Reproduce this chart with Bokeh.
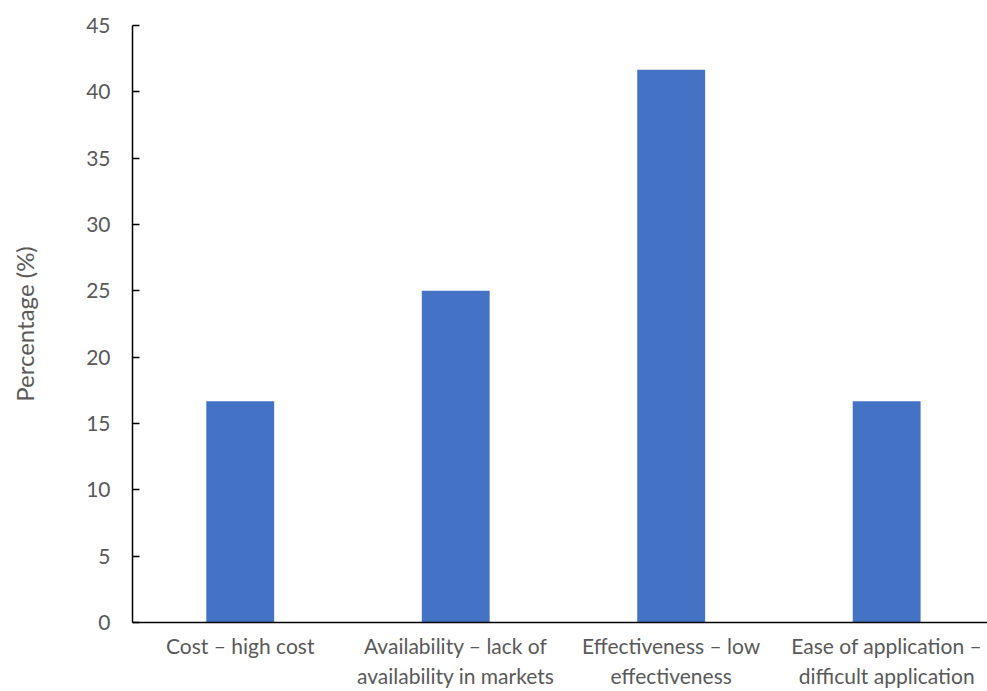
from bokeh.plotting import figure
from bokeh.models import Range1d, FixedTicker
from bokeh.embed import file_html
from bokeh.resources import INLINE

categories = ["Cost – high cost",
              "Availability – lack of\navailability in markets",
              "Effectiveness – low\neffectiveness",
              "Ease of application –\ndifficult application"]
percentages = [16.67, 25.0, 41.67, 16.67]
y_ticks = [0, 5, 10, 15, 20, 25, 30, 35, 40, 45]

xs = [i + 0.5 for i in range(len(categories))]

FONT = "Lato"
GRAY = "#595959"

p = figure(width=987, height=691, output_backend="svg", toolbar_location=None,
           x_range=Range1d(0, 3.968), y_range=Range1d(0, 45),
           min_border_left=132, min_border_right=0, min_border_top=25, min_border_bottom=69)
p.outline_line_color = None
p.xgrid.visible = False
p.ygrid.visible = False
p.background_fill_color = "white"
p.border_fill_color = "white"

p.vbar(x=xs, top=percentages, width=0.315, color="#4472C4", line_color=None)

ya = p.yaxis[0]
ya.ticker = FixedTicker(ticks=y_ticks)
ya.major_tick_in = 7
ya.major_tick_out = 0
ya.minor_tick_in = 0
ya.minor_tick_out = 0
ya.axis_line_color = "black"
ya.axis_line_width = 1.5
ya.major_tick_line_color = "black"
ya.major_tick_line_width = 1.5
ya.major_label_text_font = FONT
ya.major_label_text_font_size = "21px"
ya.major_label_text_color = GRAY
ya.major_label_standoff = 22
ya.axis_label = "Percentage (%)"
ya.axis_label_text_font = FONT
ya.axis_label_text_font_size = "24px"
ya.axis_label_text_font_style = "normal"
ya.axis_label_text_color = GRAY
ya.axis_label_standoff = 44

xa = p.xaxis[0]
xa.ticker = FixedTicker(ticks=xs)
xa.major_label_overrides = {x: c for x, c in zip(xs, categories)}
xa.major_tick_in = 0
xa.major_tick_out = 0
xa.minor_tick_in = 0
xa.minor_tick_out = 0
xa.axis_line_color = "black"
xa.axis_line_width = 1.5
xa.major_label_text_font = FONT
xa.major_label_text_font_size = "21px"
xa.major_label_text_color = GRAY
xa.major_label_standoff = 10

open("out.html", "w").write(file_html(p, INLINE))
